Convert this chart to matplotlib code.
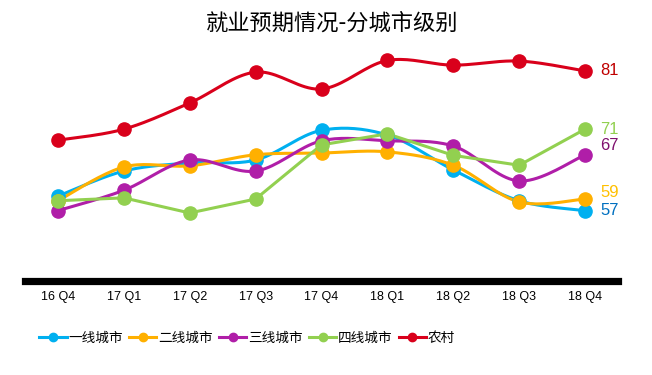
import numpy as np
import matplotlib
matplotlib.use("Agg")
from matplotlib import pyplot as plt
from matplotlib.lines import Line2D

quarters = ["16 Q4", "17 Q1", "17 Q2", "17 Q3", "17 Q4", "18 Q1", "18 Q2", "18 Q3", "18 Q4"]
tier1 = [59.5, 63.8, 65.2, 65.7, 70.8, 70.0, 64.0, 58.7, 57]
tier2 = [58.7, 64.5, 64.7, 66.6, 66.9, 67.1, 64.8, 58.5, 59]
tier3 = [57.0, 60.5, 65.7, 63.8, 69.0, 69.0, 68.1, 62.1, 66.6]
tier4 = [58.7, 59.2, 56.6, 59.0, 68.3, 70.2, 66.5, 64.8, 71]
rural = [69.1, 71.0, 75.5, 80.8, 77.9, 82.8, 82.0, 82.7, 81]

names = ["一线城市", "二线城市", "三线城市", "四线城市", "农村"]
series = [tier1, tier2, tier3, tier4, rural]
colors = ["#00B0F0", "#FFB000", "#B01EA8", "#92D050", "#D9001B"]
label_colors = ["#0070C0", "#FFC000", "#7F0F6E", "#92D050", "#C00000"]
smoothed = [True, True, True, False, True]
# end labels nudged (points) so they do not collide
label_shift = [0, 5, 7, 0, 0]

CJK = ["Noto Sans CJK SC", "DejaVu Sans"]


def smooth(x, y, n=20):
    '''Catmull-Rom curve through the points, like Excel smoothed lines.'''
    pts = np.column_stack([x, y]).astype(float)
    pts = np.vstack([pts[0], pts, pts[-1]])
    out = []
    t = np.linspace(0, 1, n, endpoint=False)
    for i in range(1, len(pts) - 2):
        p0, p1, p2, p3 = pts[i - 1], pts[i], pts[i + 1], pts[i + 2]
        c1 = p1 + (p2 - p0) / 6
        c2 = p2 - (p3 - p1) / 6
        tt = t[:, None]
        seg = ((1 - tt) ** 3 * p1 + 3 * (1 - tt) ** 2 * tt * c1
               + 3 * (1 - tt) * tt ** 2 * c2 + tt ** 3 * p2)
        out.append(seg)
    out.append(pts[-2][None, :])
    out = np.vstack(out)
    return out[:, 0], out[:, 1]


fig = plt.figure(figsize=(6.52, 3.75), dpi=100)
ax = fig.add_axes([25 / 652, 1 - 280.5 / 375, 593 / 652, 230.5 / 375])

x = np.arange(len(quarters))
handles = []
for name, vals, c, sm in zip(names, series, colors, smoothed):
    if sm:
        sx, sy = smooth(x, vals)
    else:
        sx, sy = x, vals
    ax.plot(sx, sy, color=c, lw=2.2, solid_capstyle="round", zorder=2)
    ax.plot(x, vals, "o", color=c, ms=9.5, mec=c, zorder=3)
    handles.append(Line2D([0], [0], color=c, lw=2.2, marker="o", ms=6))

for vals, lc, dy in zip(series, label_colors, label_shift):
    ax.annotate(f"{vals[-1]:.0f}", (len(quarters) - 1, vals[-1]),
                xytext=(11, dy), textcoords="offset points", color=lc,
                fontsize=12, family="Liberation Sans", va="center", ha="left")

ax.set_xlim(-0.5, len(quarters) - 0.5)
ax.set_ylim(45.0, 84.6)
ax.set_xticks(x)
ax.set_xticklabels(quarters, family="Liberation Sans", fontsize=9)
ax.tick_params(axis="x", length=0, pad=7.5)
ax.set_yticks([])
for s in ["top", "right", "left"]:
    ax.spines[s].set_visible(False)
ax.spines["bottom"].set_linewidth(5.2)
ax.spines["bottom"].set_color("black")

fig.text(332 / 652, 1 - 23 / 375, "就业预期情况-分城市级别", family=CJK,
         fontsize=16, ha="center", va="center")

fig.legend(handles, names, loc="center", bbox_to_anchor=(247 / 652, 1 - 338 / 375),
           ncol=5, frameon=False, prop={"family": CJK, "size": 9.8},
           handlelength=2.0, handletextpad=0.1, columnspacing=0.5)

fig.savefig("out.png", dpi=100)
